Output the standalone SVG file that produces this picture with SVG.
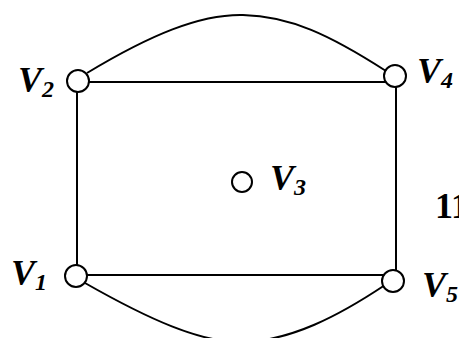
<svg xmlns="http://www.w3.org/2000/svg" width="459" height="338" viewBox="0 0 459 338">
<style>
.n{fill:#fff;stroke:#000;stroke-width:2}
.e{fill:none;stroke:#000;stroke-width:2}
.l{font-family:"Liberation Serif","Times New Roman",serif;font-weight:bold;font-style:italic;font-size:36px;fill:#000}
.s{font-size:24px}
.t{font-family:"Liberation Serif","Times New Roman",serif;font-weight:bold;font-size:36px;fill:#000}
</style>
<rect width="459" height="338" fill="#fff"/>
<g id="connectors">
<line class="e" x1="77" y1="82" x2="396" y2="82"/>
<line class="e" x1="77" y1="82" x2="77" y2="275"/>
<line class="e" x1="77" y1="275" x2="396" y2="275"/>
<line class="e" x1="396" y1="76" x2="396" y2="281"/>
<path class="e" d="M87,73 C150,35 200,14 243,15 C290,16 330,35 386,71"/>
<path class="e" d="M85,283 C150,320 200,342 240,342 C290,342 340,315 385,285"/>
</g>
<g id="V1"><circle class="n" cx="76" cy="276" r="11"/><text class="l" x="11" y="285">V<tspan class="s" dy="5">1</tspan></text></g>
<g id="V2"><circle class="n" cx="78" cy="81" r="11"/><text class="l" x="18" y="92">V<tspan class="s" dy="5">2</tspan></text></g>
<g id="V3"><circle class="n" cx="242" cy="182" r="10"/><text class="l" x="270" y="190">V<tspan class="s" dy="5">3</tspan></text></g>
<g id="V4"><circle class="n" cx="395" cy="76" r="11"/><text class="l" x="417" y="83">V<tspan class="s" dy="5">4</tspan></text></g>
<g id="V5"><circle class="n" cx="393" cy="281" r="11"/><text class="l" x="422" y="297">V<tspan class="s" dy="5">5</tspan></text></g>
<text class="t" x="435" y="218">11</text>
</svg>
